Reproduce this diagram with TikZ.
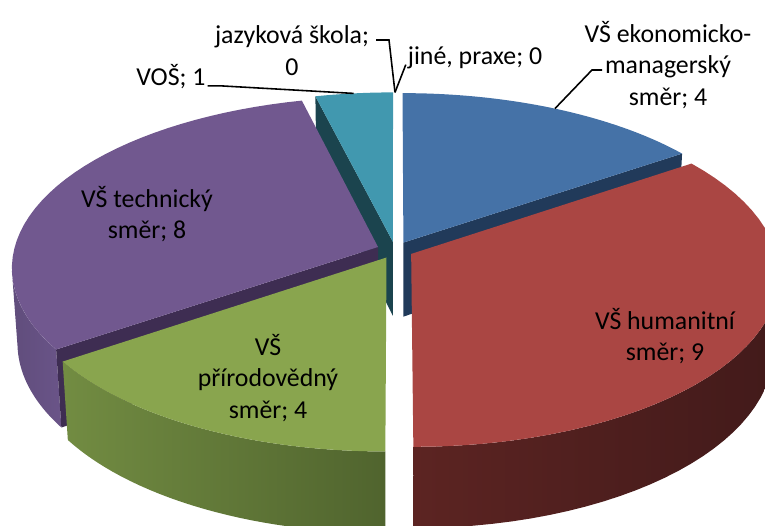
\documentclass[tikz,border=0pt]{standalone}
\usepackage{fontspec}
\setmainfont{Carlito}
\definecolor{ekontop}{RGB}{69,114,167}
\definecolor{ekoncut}{RGB}{33,58,90}
\definecolor{vostop}{RGB}{65,152,175}
\definecolor{voscut}{RGB}{27,68,78}
\definecolor{techtop}{RGB}{113,88,143}
\definecolor{techcut}{RGB}{62,45,82}
\definecolor{techsideA}{RGB}{96,77,124}
\definecolor{techsideB}{RGB}{106,84,136}
\definecolor{prirtop}{RGB}{137,165,78}
\definecolor{prirsideA}{RGB}{114,140,66}
\definecolor{prirsideB}{RGB}{80,100,46}
\definecolor{humtop}{RGB}{170,70,67}
\definecolor{humsideA}{RGB}{92,36,34}
\definecolor{humsideB}{RGB}{66,26,26}
% slice pieces: angles in degrees, mid = angle of the explosion
\newcommand{\pietop}[4]{% from, to, mid, colour
  \fill[#4] ({sx(0,0,0,#3)},{sy(0,0,0,#3)}) -- plot[domain=#1:#2,samples=40] ({sx(\x,1,0,#3)},{sy(\x,1,0,#3)}) -- cycle;}
\newcommand{\pieside}[5]{% from, to, mid, left colour, right colour
  \shade[left color=#4,right color=#5] plot[domain=#1:#2,samples=30] ({sx(\x,1,0,#3)},{sy(\x,1,0,#3)}) -- plot[domain=#2:#1,samples=30] ({sx(\x,1,-0.234,#3)},{sy(\x,1,-0.234,#3)}) -- cycle;}
\newcommand{\piecut}[3]{% angle, mid, colour
  \fill[#3] ({sx(0,0,0,#2)},{sy(0,0,0,#2)}) -- ({sx(#1,1,0,#2)},{sy(#1,1,0,#2)}) -- ({sx(#1,1,-0.234,#2)},{sy(#1,1,-0.234,#2)}) -- ({sx(0,0,-0.234,#2)},{sy(0,0,-0.234,#2)}) -- cycle;}
\begin{document}
\begin{tikzpicture}[x=0.02cm, y=-0.02cm,
    declare function={
      pX(\a,\r,\m)=\r*cos(\a)+0.05*cos(\m);
      pZ(\a,\r,\m)=\r*sin(\a)+0.05*sin(\m);
      sx(\a,\r,\h,\m)=395+2705*pX(\a,\r,\m)/(7.43+0.886*pZ(\a,\r,\m)-0.464*(\h));
      sy(\a,\r,\h,\m)=250-2705*(0.464*pZ(\a,\r,\m)+0.886*(\h))/(7.43+0.886*pZ(\a,\r,\m)-0.464*(\h));
    },
    lbl/.style={font=\fontsize{14.7}{18.1}\selectfont, align=center, inner sep=1pt},
    leader/.style={draw=black, line width=0.9pt}]
\useasboundingbox (0,0) rectangle (765,526);
\clip (0,0) rectangle (765,526);
% VOŠ
\piecut{103.846}{96.92}{voscut}
\pietop{90}{103.846}{96.92}{vostop}
% VŠ ekonomicko-managerský
\piecut{34.615}{62.31}{ekoncut}
\pietop{34.615}{90}{62.31}{ekontop}
% VŠ technický
\pieside{188}{214.615}{159.23}{techsideA}{techsideB}
\piecut{214.615}{159.23}{techcut}
\pietop{103.846}{214.615}{159.23}{techtop}
% VŠ přírodovědný
\pieside{214.615}{270}{242.31}{prirsideA}{prirsideB}
\pietop{214.615}{270}{242.31}{prirtop}
% VŠ humanitní
\pieside{-90}{-8}{-27.69}{humsideA}{humsideB}
\pietop{-90}{34.615}{-27.69}{humtop}

\coordinate (vostip) at ({sx(97,1,0,96.92)},{sy(97,1,0,96.92)});
\coordinate (toptip) at ({sx(90,1,0,90)},{sy(90,1,0,90)});
\coordinate (ekontip) at ({sx(62.31,1,0,62.31)},{sy(62.31,1,0,62.31)});
\coordinate (jazend) at (376,40);
\coordinate (ekonend) at (602,70);

\node[lbl] (lbljaz) at (292,51) {jazyková škola;\\0};
\node[lbl] (lblvos) at (171,77) {VOŠ; 1};
\node[lbl] (lbljine) at (475,58) {jiné, praxe; 0};
\node[lbl] (lblekon) at (668,65) {VŠ ekonomicko-\\managerský\\směr; 4};
\node[lbl] (lbltech) at (147,214) {VŠ technický\\směr; 8};
\node[lbl] (lblprir) at (268,378) {VŠ\\přírodovědný\\směr; 4};
\node[lbl] (lblhum) at (665,336) {VŠ humanitní\\směr; 9};

\draw[leader] (lblvos.base east) -- ++(14,0) -- (vostip);
\draw[leader] (jazend) -- ++(13,0) -- (toptip);
\draw[leader] (lbljine.base west) -- (toptip);
\draw[leader] (ekonend) -- ++(-10,0) -- (ekontip);
\end{tikzpicture}
\end{document}
